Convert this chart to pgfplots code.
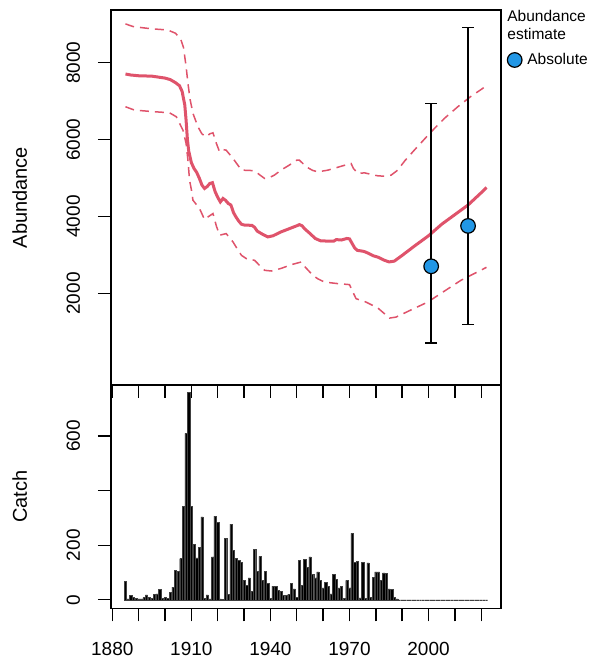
\documentclass[border=0pt]{standalone}
\usepackage{pgfplots}
\pgfplotsset{compat=1.18}
\usepackage{fontspec}
\setmainfont{Liberation Sans}
\definecolor{rred}{HTML}{DF536B}
\definecolor{rblue}{HTML}{2297E6}
\newcommand{\tickfont}{\fontsize{9.5}{11}\selectfont}
\newcommand{\labfont}{\fontsize{10.75}{12}\selectfont}
\newcommand{\legfont}{\fontsize{7.75}{9}\selectfont}
\begin{document}
\begin{tikzpicture}
\pgfplotsset{
  rbase/.style={
    scale only axis, width=195pt,
    xmin=1879.5, xmax=2027.5,
    axis line style={line width=0.7pt, black},
    tick style={line width=0.7pt, black},
    major tick length=6.5pt, tick align=outside,
    xtick={1880,1890,...,2020},
    xtick pos=left, ytick pos=left,
    tick label style={font=\tickfont},
    yticklabel style={xshift=-9pt, rotate=90, anchor=base},
    xticklabel style={yshift=-7pt},
    label style={font=\labfont},
    every axis y label/.style={at={(axis description cs:-0.2154,0.5)}, rotate=90, anchor=base},
  }
}
% ---------- top panel ----------
\begin{axis}[rbase,
  at={(55.5pt,137.5pt)}, anchor=south west, height=187.5pt,
  ymin=-380, ymax=9370,
  ytick={2000,4000,6000,8000}, yticklabels={2000,4000,6000,8000},
  xticklabels={},
  ylabel={Abundance},
  legend style={at={(axis description cs:1.0154,0.8667)}, anchor=west,
    draw=none, fill=none, inner sep=0pt, font=\legfont,
    nodes={inner sep=0pt}, column sep=2.7pt},
  legend cell align=left,
  legend image code/.code={\draw[#1] plot coordinates {(0pt,0pt)};},
]
\addplot[rred, line width=1.5pt, forget plot] coordinates {
(1885,7706) (1887,7680) (1890,7660) (1895,7650) (1900,7600) (1902,7560)
(1904,7480) (1905.5,7400) (1906.5,7250) (1907.5,6900) (1908,6500)
(1908.5,6000) (1909,5700) (1910,5400) (1911,5250) (1912,5150) (1913,5000)
(1914,4820) (1915,4730) (1916,4780) (1917,4860) (1918,4880) (1919,4650)
(1920,4500) (1921,4380) (1922,4470) (1923,4420) (1924,4340) (1925,4300)
(1926,4100) (1927,3980) (1928,3880) (1929,3800) (1930,3780) (1933,3770)
(1934,3720) (1935,3620) (1937,3540) (1939,3470) (1941,3500) (1944,3600)
(1947,3680) (1950,3760) (1951,3790) (1952,3760) (1953,3680) (1955,3560)
(1957,3430) (1959,3370) (1962,3360) (1964,3360) (1965,3400) (1967,3390)
(1969,3430) (1970,3420) (1971,3300) (1972,3180) (1973,3120) (1975,3100)
(1976,3080) (1977,3050) (1979,2980) (1981,2940) (1983,2870) (1985,2820)
(1987,2840) (1990,2990) (1995,3250) (2000,3500) (2005,3800) (2010,4050)
(2015,4300) (2020,4620) (2022,4755)
};
\addplot[rred, line width=0.75pt, dash pattern=on 4.5pt off 3pt, forget plot] coordinates {
(1885,9008) (1888,8937) (1895,8880) (1901,8851) (1904,8765) (1906,8600)
(1907,8400) (1908,7900) (1908.7,7464) (1909.5,7050) (1910.6,6682)
(1912.5,6333) (1914,6150) (1915.6,6073) (1917,6150) (1918.2,6177)
(1919.5,5900) (1920.7,5682) (1922,5740) (1923.2,5726) (1925.8,5510)
(1927.5,5350) (1929,5206) (1932,5200) (1934,5188) (1936,5080) (1937.8,4990)
(1939.5,5010) (1941.5,5076) (1944,5206) (1947,5330) (1950,5466) (1951,5466)
(1953.6,5292) (1956,5200) (1958,5162) (1961.8,5206) (1965,5270) (1968,5330)
(1970.6,5380) (1971.5,5250) (1973.2,5120) (1975.7,5136) (1978,5100)
(1980.8,5058) (1983,5050) (1985.8,5076) (1988.3,5206) (1991,5450)
(1994.6,5726) (2001,6203) (2006,6550) (2011.1,6854) (2016,7120)
(2020.6,7333) (2022,7420)
};
\addplot[rred, line width=0.75pt, dash pattern=on 4.5pt off 3pt, forget plot] coordinates {
(1885,6854) (1888.4,6768) (1895,6730) (1901.7,6698) (1904.3,6594)
(1906.8,6247) (1908,5900) (1908.7,5466) (1909.3,4950) (1910,4700)
(1910.6,4425) (1913.1,4208) (1915,3922) (1916.5,4000) (1918.2,4078)
(1919.5,3750) (1920.7,3513) (1923.2,3557) (1925.8,3339) (1927.5,3150)
(1929,2992) (1931,2900) (1934,2862) (1936,2720) (1937.8,2602) (1940.3,2584)
(1944,2650) (1948,2750) (1951.7,2818) (1953,2700) (1956.1,2472) (1958,2380)
(1960.5,2297) (1965,2260) (1970,2230) (1971.2,2050) (1972.5,1865)
(1976.3,1776) (1980.8,1620) (1983,1490) (1985.2,1360) (1987.7,1386)
(1993,1560) (1999.7,1776) (2006,2060) (2012.3,2342) (2018,2540) (2022,2680)
};
\addplot[forget plot, draw=none, mark=none,
  error bars/.cd, y dir=both, y explicit,
  error bar style={black, line width=0.75pt},
  error mark options={black, line width=0.75pt, mark size=3pt, rotate=90}]
  coordinates {(2001,2706) += (0,4237) -= (0,1988)
               (2015,3756) += (0,5155) -= (0,2560)};
\addplot[only marks, mark=*, mark size=3.65pt,
  mark options={fill=rblue, draw=black, line width=0.6pt}]
  coordinates {(2001,2706) (2015,3756)};
\addlegendentry{Absolute}
\end{axis}
\node[anchor=base west, font=\legfont, inner sep=0pt] at (253.5pt,319.15pt) {Abundance};
\node[anchor=base west, font=\legfont, inner sep=0pt] at (253.5pt,310pt) {estimate};
% ---------- bottom panel ----------
\begin{axis}[rbase,
  at={(55.5pt,25.75pt)}, anchor=south west, height=111.75pt,
  ymin=-32, ymax=787.5,
  ytick={0,200,400,600}, yticklabels={0,200,,600},
  xticklabels={1880,,,1910,,,1940,,,1970,,,2000,,},
  ylabel={Catch},
]
\addplot[ybar, bar width=0.85, fill=black, draw=black!75, line width=0.2pt] coordinates {
(1885,68) (1886,3) (1887,16) (1888,8) (1889,5) (1890,3) (1891,3) (1892,8)
(1893,18) (1894,8) (1895,6) (1896,19) (1897,22) (1898,38) (1899,5) (1900,8)
(1901,5) (1902,28) (1903,46) (1904,108) (1905,104) (1906,151) (1907,343)
(1908,610) (1909,760) (1910,343) (1911,203) (1912,154) (1913,191) (1914,304)
(1915,5) (1916,18) (1917,3) (1918,157) (1919,307) (1920,285) (1921,3)
(1922,2) (1923,224) (1924,20) (1925,277) (1926,181) (1927,153) (1928,144)
(1929,138) (1930,71) (1931,53) (1932,80) (1933,30) (1934,185) (1935,104)
(1936,159) (1937,71) (1938,105) (1939,59) (1940,5) (1941,50) (1942,49)
(1943,34) (1944,30) (1945,16) (1946,16) (1947,20) (1948,59) (1949,40)
(1950,10) (1951,144) (1952,53) (1953,147) (1954,120) (1955,157) (1956,93)
(1957,80) (1958,102) (1959,71) (1960,44) (1961,65) (1962,49) (1963,22)
(1964,92) (1965,75) (1966,44) (1967,49) (1968,4) (1969,71) (1970,44)
(1971,243) (1972,136) (1973,141) (1974,7) (1975,138) (1976,4) (1977,135)
(1978,8) (1979,83) (1980,102) (1981,102) (1982,71) (1983,99) (1984,98)
(1985,40) (1986,38) (1987,10) (1988,3) (1989,0) (1990,0) (1991,0) (1992,0)
(1993,0) (1994,0) (1995,0) (1996,0) (1997,0) (1998,0) (1999,0) (2000,0)
(2001,0) (2002,0) (2003,0) (2004,0) (2005,0) (2006,0) (2007,0) (2008,0)
(2009,0) (2010,0) (2011,0) (2012,0) (2013,0) (2014,0) (2015,0) (2016,0)
(2017,0) (2018,0) (2019,0) (2020,0) (2021,0) (2022,0)
};
\end{axis}
\pgfresetboundingbox
\path[use as bounding box] (0,0) rectangle (295.5pt,330pt);
\end{tikzpicture}
\end{document}
